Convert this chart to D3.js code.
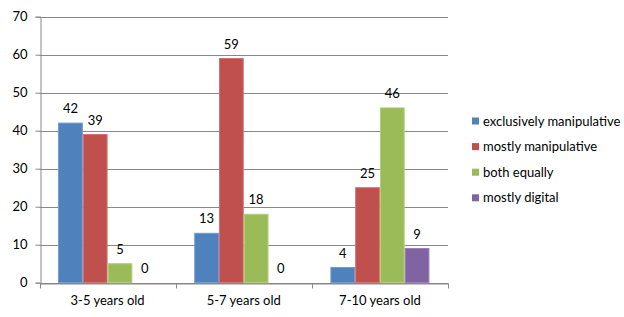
<!DOCTYPE html>
<html>
<head>
<meta charset="utf-8">
<script src="https://cdn.jsdelivr.net/npm/d3@7"></script>
<style>
  body { margin: 0; background: #fff; }
  text { font-family: Lato, "Open Sans", sans-serif; fill: #000; }
</style>
</head>
<body>
<div id="chart"></div>
<script>
const categories = ['3-5 years old', '5-7 years old', '7-10 years old'];
const seriesNames = ['exclusively manipulative', 'mostly manipulative', 'both equally', 'mostly digital'];
const seriesColors = ['#4F81BD', '#C0504D', '#9BBB59', '#8064A2'];
const seriesStroke = ['#6f9bd1', '#d27370', '#b2cf76', '#9a80bd'];
const exclusivelyManipulative = [42, 13, 4];
const mostlyManipulative = [39, 59, 25];
const bothEqually = [5, 18, 46];
const mostlyDigital = [0, 0, 9];
const yTicks = [0, 10, 20, 30, 40, 50, 60, 70];

const values = [exclusivelyManipulative, mostlyManipulative, bothEqually, mostlyDigital];

const width = 624, height = 317;
const margin = { left: 39.5, right: 176, top: 16.7, bottom: 34.3 };

const svg = d3.select('#chart')
  .append('svg')
  .attr('width', width)
  .attr('height', height);

const x = d3.scaleBand()
  .domain(categories)
  .range([margin.left, width - margin.right]);

const inner = d3.scaleBand()
  .domain(seriesNames)
  .range([0, x.bandwidth()])
  .paddingOuter(0.75)
  .paddingInner(0);

const y = d3.scaleLinear()
  .domain([0, 70])
  .range([height - margin.bottom, margin.top]);

// gridlines
svg.append('g')
  .selectAll('line')
  .data(yTicks)
  .enter()
  .append('line')
  .attr('x1', margin.left)
  .attr('x2', width - margin.right)
  .attr('y1', d => Math.round(y(d)) + 0.5)
  .attr('y2', d => Math.round(y(d)) + 0.5)
  .attr('stroke', '#888')
  .attr('stroke-width', 1);

// y axis
const yAxis = svg.append('g')
  .attr('transform', `translate(${Math.round(margin.left) + 0.5},0)`)
  .call(d3.axisLeft(y).tickValues(yTicks).tickSize(5).tickPadding(8));
yAxis.selectAll('path, line').attr('stroke', '#888');
yAxis.selectAll('text').style('font-size', '13px').style('font-family', 'Lato, sans-serif');

// x axis
const xAxis = svg.append('g')
  .attr('transform', `translate(0,${Math.round(y(0)) + 0.5})`)
  .call(d3.axisBottom(x).tickSize(0).tickPadding(12));
xAxis.select('path').attr('stroke', '#888');
xAxis.selectAll('text').style('font-size', '13px').style('font-family', 'Lato, sans-serif');
xAxis.selectAll('line.sep')
  .data(d3.range(categories.length + 1))
  .enter()
  .append('line')
  .attr('class', 'sep')
  .attr('x1', i => Math.round(margin.left + i * x.step()) + 0.5)
  .attr('x2', i => Math.round(margin.left + i * x.step()) + 0.5)
  .attr('y1', 0)
  .attr('y2', 5)
  .attr('stroke', '#888');

// bars
const groups = svg.append('g')
  .selectAll('g')
  .data(categories)
  .enter()
  .append('g')
  .attr('transform', d => `translate(${x(d)},0)`);

groups.each(function (cat, ci) {
  const g = d3.select(this);
  seriesNames.forEach((s, si) => {
    const v = values[si][ci];
    if (v > 0) {
      g.append('rect')
        .attr('x', inner(s) + 0.5)
        .attr('y', y(v))
        .attr('width', inner.bandwidth() - 1)
        .attr('height', y(0) - y(v))
        .attr('fill', seriesColors[si])
        .attr('stroke', seriesStroke[si])
        .attr('stroke-width', 1);
    }
    g.append('text')
      .attr('x', inner(s) + inner.bandwidth() / 2)
      .attr('y', y(v) - 10)
      .attr('text-anchor', 'middle')
      .style('font-size', '13px')
      .text(v);
  });
});

// legend
const legend = svg.append('g')
  .selectAll('g')
  .data(seriesNames)
  .enter()
  .append('g')
  .attr('transform', (d, i) => `translate(472,${121 + i * 25.6})`);

legend.append('rect')
  .attr('x', 0)
  .attr('y', -3.5)
  .attr('width', 7)
  .attr('height', 7)
  .attr('fill', (d, i) => seriesColors[i]);

legend.append('text')
  .attr('x', 11)
  .attr('y', 0)
  .attr('dy', '0.35em')
  .style('font-size', '13px')
  .text(d => d);
</script>
</body>
</html>
